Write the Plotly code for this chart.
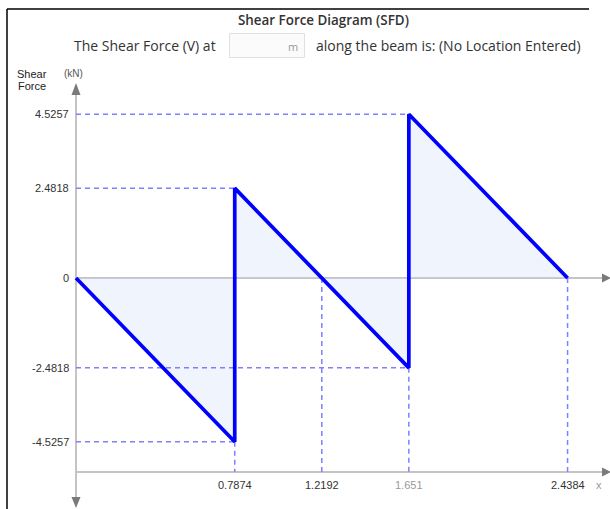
import plotly.graph_objects as go

# ---- data ----
x_pos = [0, 0.7874, 0.7874, 1.651, 1.651, 2.4384]
shear = [0, -4.5257, 2.4818, -2.4818, 4.5257, 0]
x_ticks = [0.7874, 1.2192, 1.651, 2.4384]
x_tick_labels = ["0.7874", "1.2192", "1.651", "2.4384"]
y_ticks = [4.5257, 2.4818, 0, -2.4818, -4.5257]
y_tick_labels = ["4.5257", "2.4818", "0", "-2.4818", "-4.5257"]

# ---- layout geometry (pixels) ----
W, H = 610, 509
X0PX, Y0PX = 76, 278          # origin pixel
SX, SY = 201.6, 36.2          # pixels per unit
BOTTOM_AXIS_PX = 472

def px(x):
    return x / W

def py(y):
    return 1 - y / H

xr = [-X0PX / SX, (W - X0PX) / SX]
yr = [-(H - Y0PX) / SY, Y0PX / SY]
y_bottom = -(BOTTOM_AXIS_PX - Y0PX) / SY

GUIDE = "#7f7fff"
AXIS = "#c4c4c4"
ARROW = "#7a7a7a"

fig = go.Figure()

# fill
fig.add_trace(go.Scatter(x=x_pos, y=shear, mode="lines", fill="tozeroy",
                         fillcolor="rgba(205,222,248,0.32)", line=dict(width=0),
                         hoverinfo="skip", showlegend=False))

# horizontal guides
for xv, yv in zip(x_pos, shear):
    if yv != 0:
        fig.add_trace(go.Scatter(x=[0, xv], y=[yv, yv], mode="lines",
                                 line=dict(color=GUIDE, width=1.5, dash="5px,4px"),
                                 hoverinfo="skip", showlegend=False))
# vertical guides
for xt in x_ticks:
    ys = [s for xv, s in zip(x_pos, shear) if xv == xt]
    top = min(ys) if ys else 0
    fig.add_trace(go.Scatter(x=[xt, xt], y=[top, y_bottom], mode="lines",
                             line=dict(color=GUIDE, width=1.5, dash="5px,4px"),
                             hoverinfo="skip", showlegend=False))

shapes = []
# frame border
shapes.append(dict(type="line", xref="paper", yref="paper", x0=px(7), x1=px(7), y0=py(9), y1=py(H + 2),
                   line=dict(color="#000", width=1.5)))
shapes.append(dict(type="line", xref="paper", yref="paper", x0=px(7), x1=px(589), y0=py(9), y1=py(9),
                   line=dict(color="#000", width=1.5)))
# axes
shapes.append(dict(type="line", xref="paper", yref="paper", x0=px(X0PX), x1=px(X0PX), y0=py(92), y1=py(500),
                   line=dict(color=AXIS, width=2), layer="below"))
shapes.append(dict(type="line", xref="paper", yref="paper", x0=px(X0PX), x1=px(605), y0=py(Y0PX), y1=py(Y0PX),
                   line=dict(color=AXIS, width=2), layer="below"))
shapes.append(dict(type="line", xref="paper", yref="paper", x0=px(X0PX), x1=px(605), y0=py(BOTTOM_AXIS_PX), y1=py(BOTTOM_AXIS_PX),
                   line=dict(color=AXIS, width=2), layer="below"))

def tri(pts):
    p = "M " + " L ".join(f"{px(a):.5f},{py(b):.5f}" for a, b in pts) + " Z"
    return dict(type="path", xref="paper", yref="paper", path=p,
                fillcolor=ARROW, line=dict(width=0))

shapes.append(tri([(76, 83), (71.5, 95), (80.5, 95)]))
shapes.append(tri([(71.5, 497), (80.5, 497), (76, 508)]))
shapes.append(tri([(602, 273.5), (611, 278), (602, 282.5)]))
shapes.append(tri([(602, 467.5), (611, 472), (602, 476.5)]))
# input box
shapes.append(dict(type="rect", xref="paper", yref="paper", x0=px(229.5), x1=px(304.5), y0=py(33.5), y1=py(57.5),
                   line=dict(color="#e0e0e0", width=1), fillcolor="#fbfbfb"))

# main line
fig.add_trace(go.Scatter(x=x_pos, y=shear, mode="lines",
                         line=dict(color="#0000ff", width=3.7),
                         hoverinfo="skip", showlegend=False))

ann = []
TF = dict(family="Liberation Sans, Arial", size=11, color="#333")
for v, lab in zip(y_ticks, y_tick_labels):
    ann.append(dict(x=px(71), xref="paper", y=v, yref="y", text=lab, showarrow=False,
                    xanchor="right", yanchor="middle", font=TF))
for v, lab in zip(x_ticks, x_tick_labels):
    col = "#999" if lab == "1.651" else "#333"
    ann.append(dict(x=v, xref="x", y=py(485), yref="paper", text=lab, showarrow=False,
                    xanchor="center", yanchor="middle", font=dict(TF, color=col)))
ann.append(dict(x=px(599), xref="paper", y=py(485), yref="paper", text="x", showarrow=False,
                xanchor="center", yanchor="middle", font=dict(TF, color="#999")))
ann.append(dict(x=px(32), xref="paper", y=py(74), yref="paper", text="Shear", showarrow=False,
                xanchor="center", yanchor="middle", font=dict(TF, color="#222")))
ann.append(dict(x=px(32), xref="paper", y=py(86), yref="paper", text="Force", showarrow=False,
                xanchor="center", yanchor="middle", font=dict(TF, color="#222")))
ann.append(dict(x=px(73), xref="paper", y=py(73), yref="paper", text="(kN)", showarrow=False,
                xanchor="center", yanchor="middle", font=dict(TF, size=10, color="#555")))
OS = dict(family="Open Sans", size=14, color="#333")
ann.append(dict(x=px(323), xref="paper", y=py(20), yref="paper", text="Shear Force Diagram (SFD)", showarrow=False,
                xanchor="center", yanchor="middle", font=dict(OS, size=13.4, weight=600)))
ann.append(dict(x=px(218), xref="paper", y=py(45), yref="paper", text="The Shear Force (V) at", showarrow=False,
                xanchor="right", yanchor="middle", font=OS))
ann.append(dict(x=px(300), xref="paper", y=py(46), yref="paper", text="m", showarrow=False,
                xanchor="right", yanchor="middle", font=dict(OS, size=11, color="#999")))
ann.append(dict(x=px(314), xref="paper", y=py(45), yref="paper", text="along the beam is: (No Location Entered)", showarrow=False,
                xanchor="left", yanchor="middle", font=OS))

fig.update_layout(
    width=W, height=H, margin=dict(l=0, r=0, t=0, b=0),
    paper_bgcolor="white", plot_bgcolor="white",
    xaxis=dict(range=xr, visible=False, fixedrange=True),
    yaxis=dict(range=yr, visible=False, fixedrange=True),
    shapes=shapes, annotations=ann, showlegend=False,
)

fig.write_html("out.html", config={"displayModeBar": False},
               post_script="document.body.style.margin='0';document.body.style.overflow='hidden';")
